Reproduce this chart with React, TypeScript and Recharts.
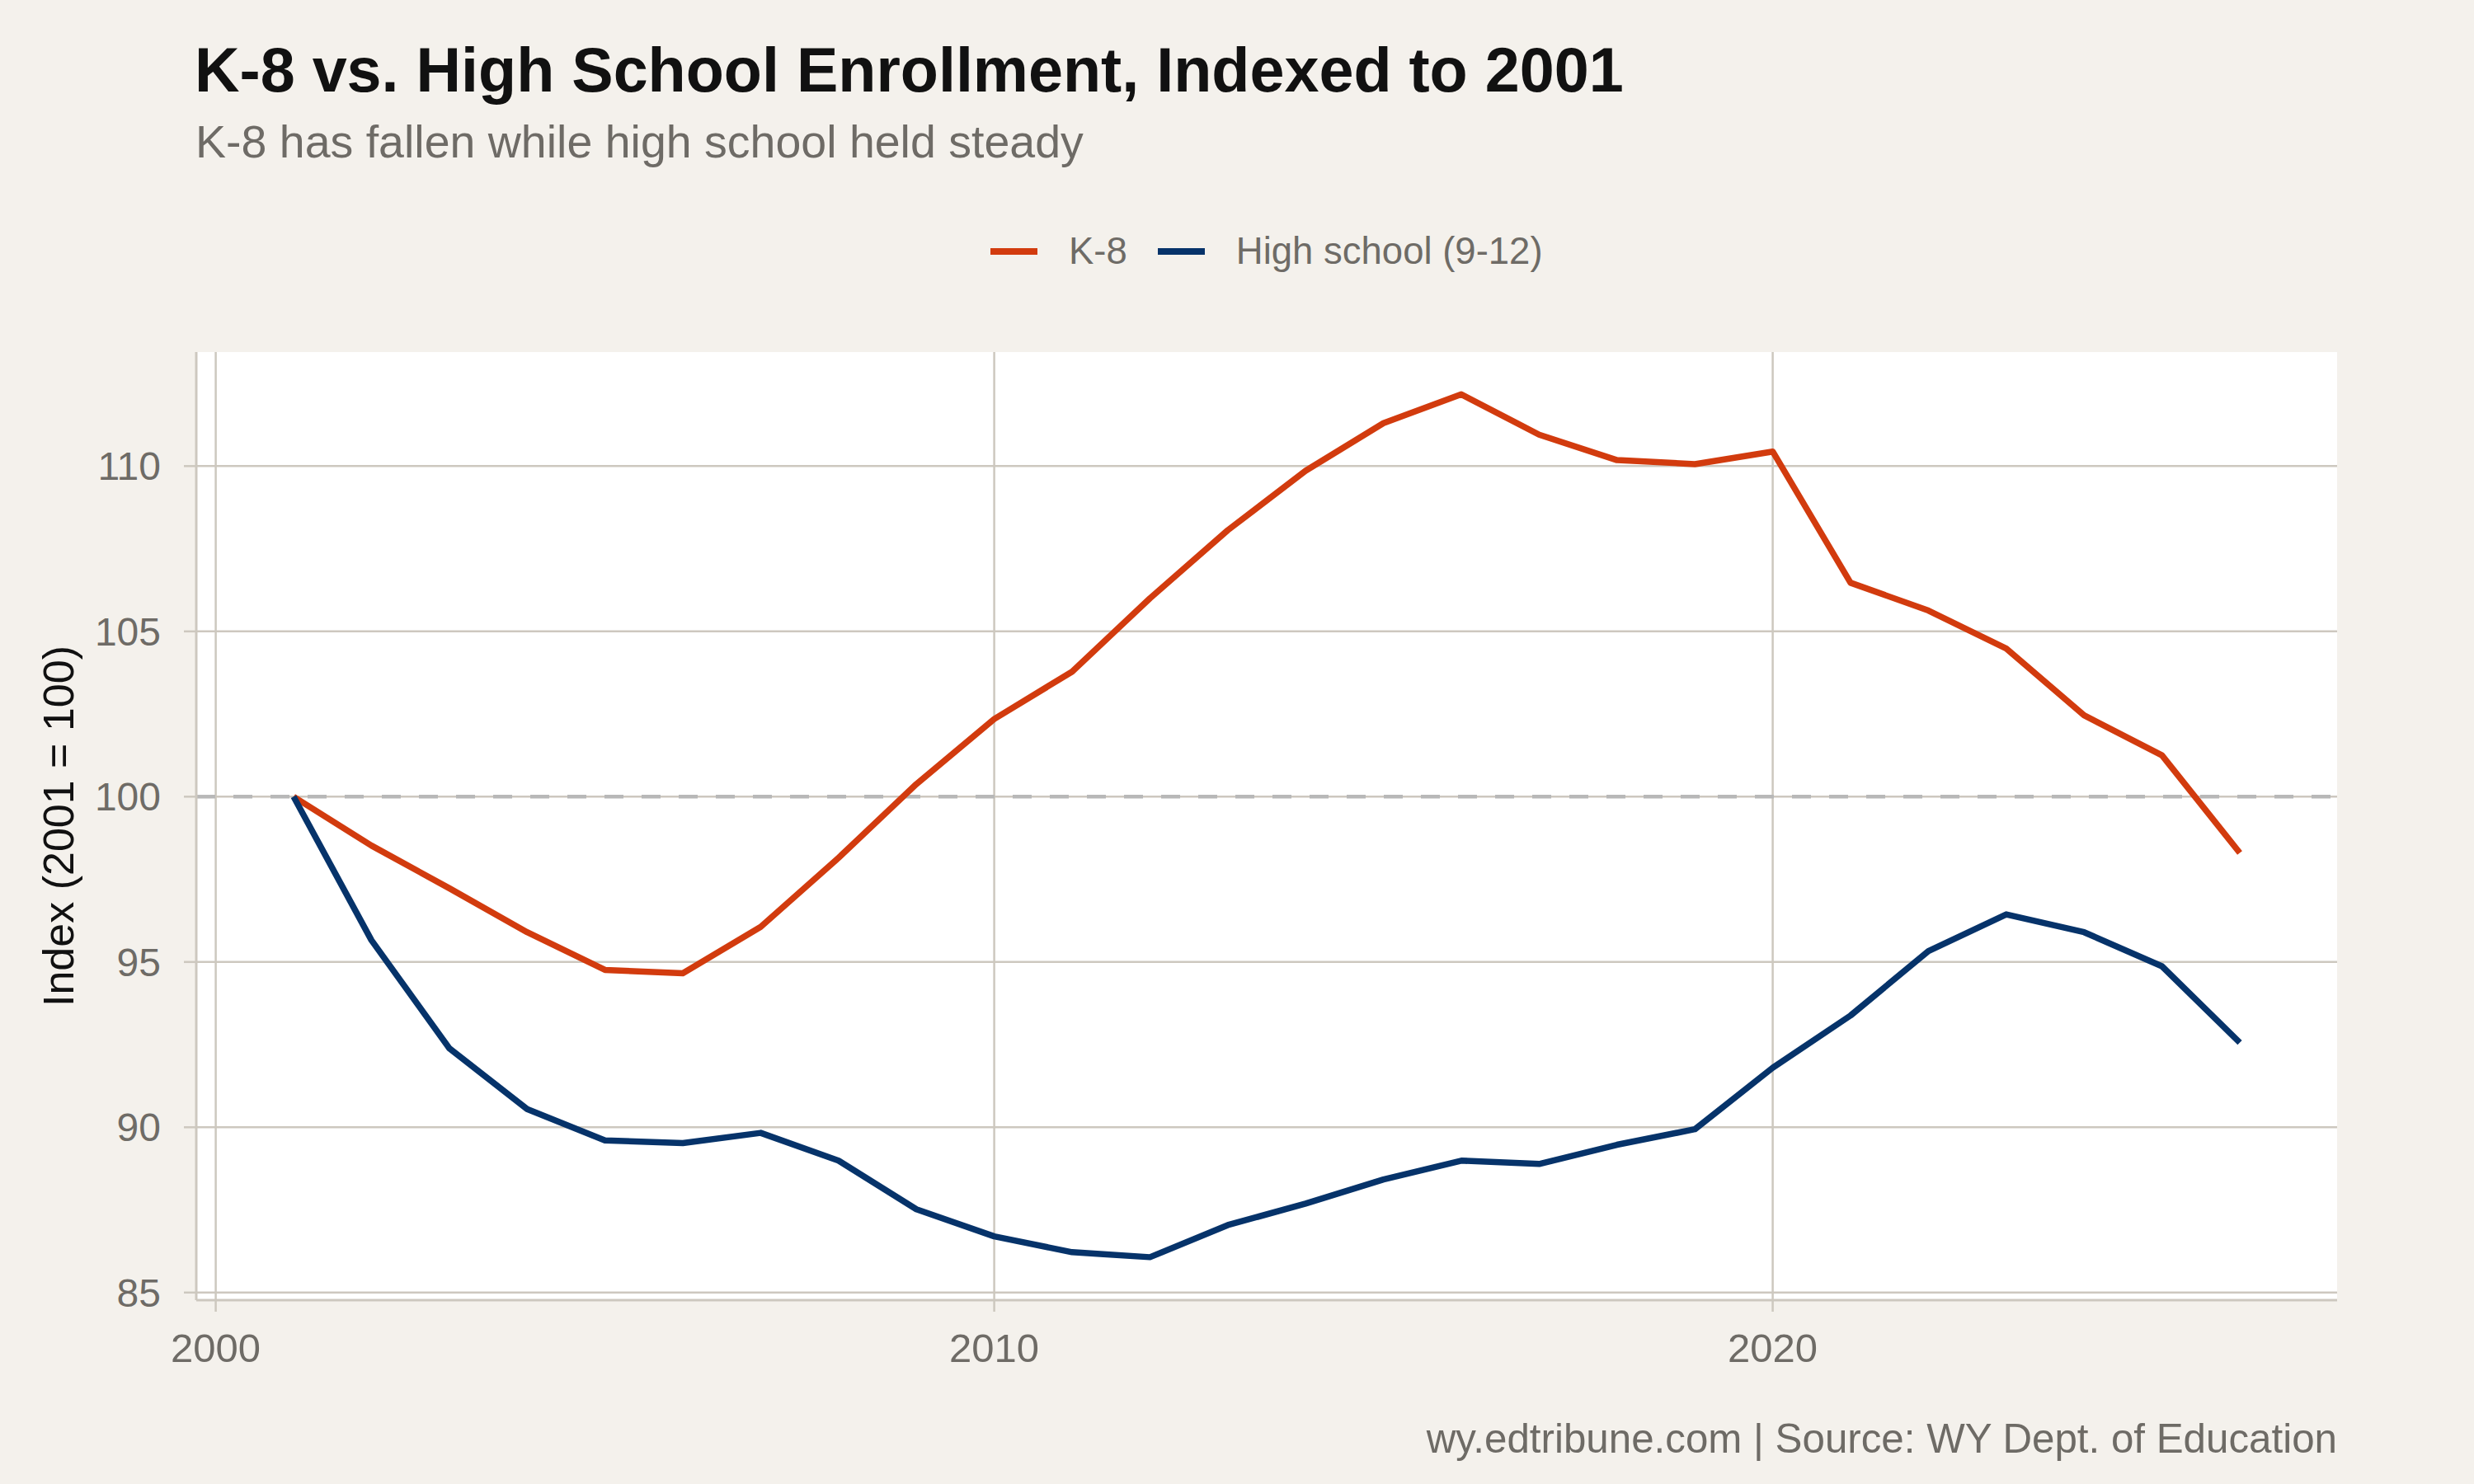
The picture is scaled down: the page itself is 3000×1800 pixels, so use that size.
import { LineChart, Line, XAxis, YAxis, CartesianGrid, ReferenceLine } from "recharts"

const YEARS = [
  2001, 2002, 2003, 2004, 2005, 2006, 2007, 2008, 2009, 2010, 2011, 2012, 2013,
  2014, 2015, 2016, 2017, 2018, 2019, 2020, 2021, 2022, 2023, 2024, 2025, 2026,
]
const K8 = [
  100, 98.52, 97.23, 95.9, 94.76, 94.66, 96.06, 98.15, 100.38, 102.35, 103.78, 106.0, 108.06,
  109.86, 111.3, 112.17, 110.95, 110.18, 110.06, 110.44, 106.47, 105.63, 104.48, 102.46, 101.25, 98.3,
]
const HIGH_SCHOOL = [
  100, 95.66, 92.39, 90.55, 89.6, 89.52, 89.83, 88.99, 87.52, 86.7, 86.22, 86.07, 87.04,
  87.69, 88.42, 88.99, 88.89, 89.47, 89.94, 91.8, 93.38, 95.33, 96.44, 95.9, 94.87, 92.56,
]
const X_TICKS = [2000, 2010, 2020]
const Y_TICKS = [85, 90, 95, 100, 105, 110]

const SERIES = [
  { key: "k8", name: "K-8", color: "#d23b0e" },
  { key: "hs", name: "High school (9-12)", color: "#06336a" },
]

const FONT = '"Liberation Sans", Arial, Helvetica, sans-serif'
const BG = "#f4f1ec"
const GRID = "#cdc8bf"
const MUTED = "#6e6b66"

const rows = YEARS.map((year, i) => ({ year, k8: K8[i], hs: HIGH_SCHOOL[i] }))

export default function App() {
  return (
    <div
      style={{
        position: "absolute",
        left: 0,
        top: 0,
        width: 3000,
        height: 1800,
        background: BG,
        fontFamily: FONT,
        overflow: "hidden",
      }}
    >
      <div
        style={{
          position: "absolute",
          left: 236,
          top: 48,
          fontSize: 75.5,
          lineHeight: 1,
          fontWeight: 700,
          color: "#111111",
          whiteSpace: "nowrap",
        }}
      >
        K-8 vs. High School Enrollment, Indexed to 2001
      </div>
      <div
        style={{
          position: "absolute",
          left: 237,
          top: 145,
          fontSize: 55.5,
          lineHeight: 1,
          color: MUTED,
          whiteSpace: "nowrap",
        }}
      >
        K-8 has fallen while high school held steady
      </div>

      {/* legend */}
      <div
        style={{
          position: "absolute",
          left: 1201,
          top: 282,
          height: 45,
          display: "flex",
          alignItems: "center",
          fontSize: 45.5,
          lineHeight: 1,
          color: MUTED,
          whiteSpace: "nowrap",
        }}
      >
        {SERIES.map((s, i) => (
          <div key={s.key} style={{ display: "flex", alignItems: "center", marginLeft: i ? 37 : 0 }}>
            <div style={{ width: 57, height: 8, background: s.color, marginRight: 38 }} />
            <span>{s.name}</span>
          </div>
        ))}
      </div>

      <div
        style={{
          position: "absolute",
          left: 71,
          top: 1002,
          transform: "translate(-50%, -50%) rotate(-90deg)",
          fontSize: 52,
          lineHeight: 1,
          color: "#111111",
          whiteSpace: "nowrap",
        }}
      >
        Index (2001 = 100)
      </div>

      <div style={{ position: "absolute", left: 0, top: 0 }}>
        <LineChart
          width={3000}
          height={1800}
          data={rows}
          margin={{ top: 427, right: 166, bottom: 100, left: 0 }}
        >
          <CartesianGrid stroke={GRID} strokeWidth={2.5} fill="#ffffff" syncWithTicks />
          <XAxis
            dataKey="year"
            type="number"
            domain={[1999.75, 2027.25]}
            allowDataOverflow
            ticks={X_TICKS}
            height={123}
            tickSize={14}
            tickMargin={26}
            axisLine={{ stroke: GRID, strokeWidth: 3 }}
            tickLine={{ stroke: GRID, strokeWidth: 2.5 }}
            tick={{ fill: MUTED, fontSize: 49, fontFamily: FONT }}
          />
          <YAxis
            type="number"
            domain={[84.77, 113.45]}
            allowDataOverflow
            ticks={Y_TICKS}
            width={238}
            tickSize={15}
            tickMargin={28}
            axisLine={{ stroke: GRID, strokeWidth: 3 }}
            tickLine={{ stroke: GRID, strokeWidth: 2.5 }}
            tick={{ fill: MUTED, fontSize: 48, fontFamily: FONT }}
          />
          <ReferenceLine y={100} stroke="#b8b8b8" strokeWidth={4.5} strokeDasharray="23 22" />
          {SERIES.map((s) => (
            <Line
              key={s.key}
              type="linear"
              dataKey={s.key}
              name={s.name}
              stroke={s.color}
              strokeWidth={7.5}
              strokeLinejoin="round"
              dot={false}
              activeDot={false}
              isAnimationActive={false}
            />
          ))}
        </LineChart>
      </div>

      <div
        style={{
          position: "absolute",
          right: 166,
          top: 1720,
          fontSize: 49.3,
          lineHeight: 1,
          color: MUTED,
          whiteSpace: "nowrap",
        }}
      >
        wy.edtribune.com | Source: WY Dept. of Education
      </div>
    </div>
  )
}
